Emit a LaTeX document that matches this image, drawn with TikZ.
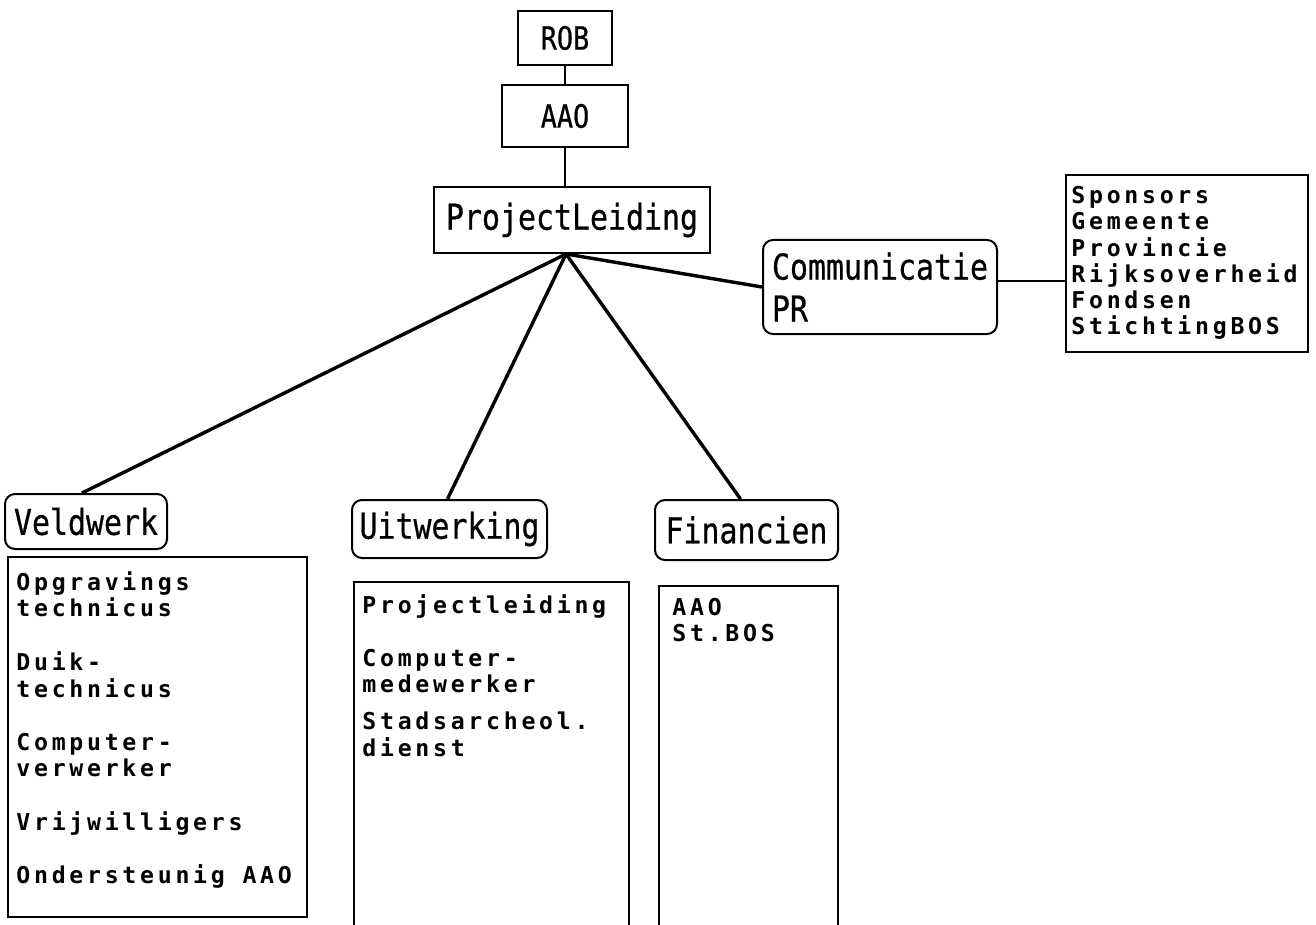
\documentclass[tikz,border=0pt]{standalone}
\usepackage{fontspec}
\newfontfamily\headfont{DejaVu Sans Mono}[FakeStretch=0.84, FakeBold=0.6]
\newfontfamily\listfont{DejaVu Sans Mono}[LetterSpace=16]
\begin{document}
\begin{tikzpicture}[x=0.5pt,y=-0.5pt,
  box/.style={draw, line width=1pt, inner sep=0pt},
  headbox/.style={box, rounded corners=5pt},
  headtext/.style={font=\headfont\fontsize{17.8}{21}\selectfont},
  toptext/.style={font=\headfont\fontsize{16}{19}\selectfont},
  listtext/.style={inner sep=0pt, anchor=base west,
    font=\listfont\bfseries\fontsize{11.6}{13.3}\selectfont},
  link/.style={line width=1.7pt},
  thinlink/.style={line width=1pt}]
\useasboundingbox (0,0) rectangle (1316,925);

% top of the hierarchy
\node[box, toptext, minimum width=47pt, minimum height=27pt] (rob) at (565,38) {ROB};
\node[box, toptext, minimum width=63pt, minimum height=31pt] (aao) at (565,116) {AAO};
\node[box, headtext, minimum width=138pt, minimum height=33pt] (pl) at (572,220) {ProjectLeiding};

% communication branch
\node[headbox, headtext, align=left, minimum width=117pt, minimum height=47pt] (comm) at (880,287)
  {Communicatie\\PR};
\node[box, minimum width=121pt, minimum height=88.5pt] (commlist) at (1187,263.5) {};
\node[listtext, font=\listfont\bfseries\fontsize{11.6}{12.8}\selectfont] (commtxt) at (1071,204)
  {\begin{tabular}[t]{@{}l@{}}Sponsors\\Gemeente\\Provincie\\Rijksoverheid\\Fondsen\\StichtingBOS\end{tabular}};

% three working groups
\node[headbox, headtext, minimum width=81pt, minimum height=27.5pt] (veld) at (86,521.5) {Veldwerk};
\node[headbox, headtext, minimum width=97.5pt, minimum height=29pt] (uit) at (449.5,529) {Uitwerking};
\node[headbox, headtext, minimum width=91.5pt, minimum height=30pt] (fin) at (746.5,530) {Financien};

% staff lists
\node[box, minimum width=149.5pt, minimum height=180pt] (veldlist) at (157.5,737) {};
\node[listtext] (veldtxt) at (16,590)
  {\begin{tabular}[t]{@{}l@{}}Opgravings\\technicus\\[13.3pt]Duik-\\technicus\\[13.3pt]Computer-\\verwerker\\[13.3pt]Vrijwilligers\\[13.3pt]Ondersteunig AAO\end{tabular}};

\node[inner sep=0pt, minimum width=137.5pt, minimum height=171.5pt] (uitlist) at (491.5,753.5) {};
\draw[line width=1pt] (uitlist.south west) -- (uitlist.north west) -- (uitlist.north east) -- (uitlist.south east);
\node[listtext] (uittxt) at (362,613)
  {\begin{tabular}[t]{@{}l@{}}Projectleiding\\[13.3pt]Computer-\\medewerker\\[5pt]Stadsarcheol.\\dienst\end{tabular}};

\node[inner sep=0pt, minimum width=89.5pt, minimum height=169.5pt] (finlist) at (748.5,755.5) {};
\draw[line width=1pt] (finlist.south west) -- (finlist.north west) -- (finlist.north east) -- (finlist.south east);
\node[listtext] (fintxt) at (672,615)
  {\begin{tabular}[t]{@{}l@{}}AAO\\St.BOS\end{tabular}};

% connectors
\draw[thinlink] (rob.south) -- (aao.north);
\draw[thinlink] (aao.south) -- (aao.south |- pl.north);
\coordinate (hub) at ([xshift=-3pt]pl.south);
\draw[link] (hub) -- ([xshift=-2pt]veld.north);
\draw[link] (hub) -- ([xshift=-1pt]uit.north);
\draw[link] (hub) -- ([xshift=-3pt]fin.north);
\draw[link] (hub) -- (comm.west);
\draw[thinlink] ([yshift=3pt]comm.east) -- ([yshift=3pt]comm.east -| commlist.west);
\end{tikzpicture}
\end{document}
